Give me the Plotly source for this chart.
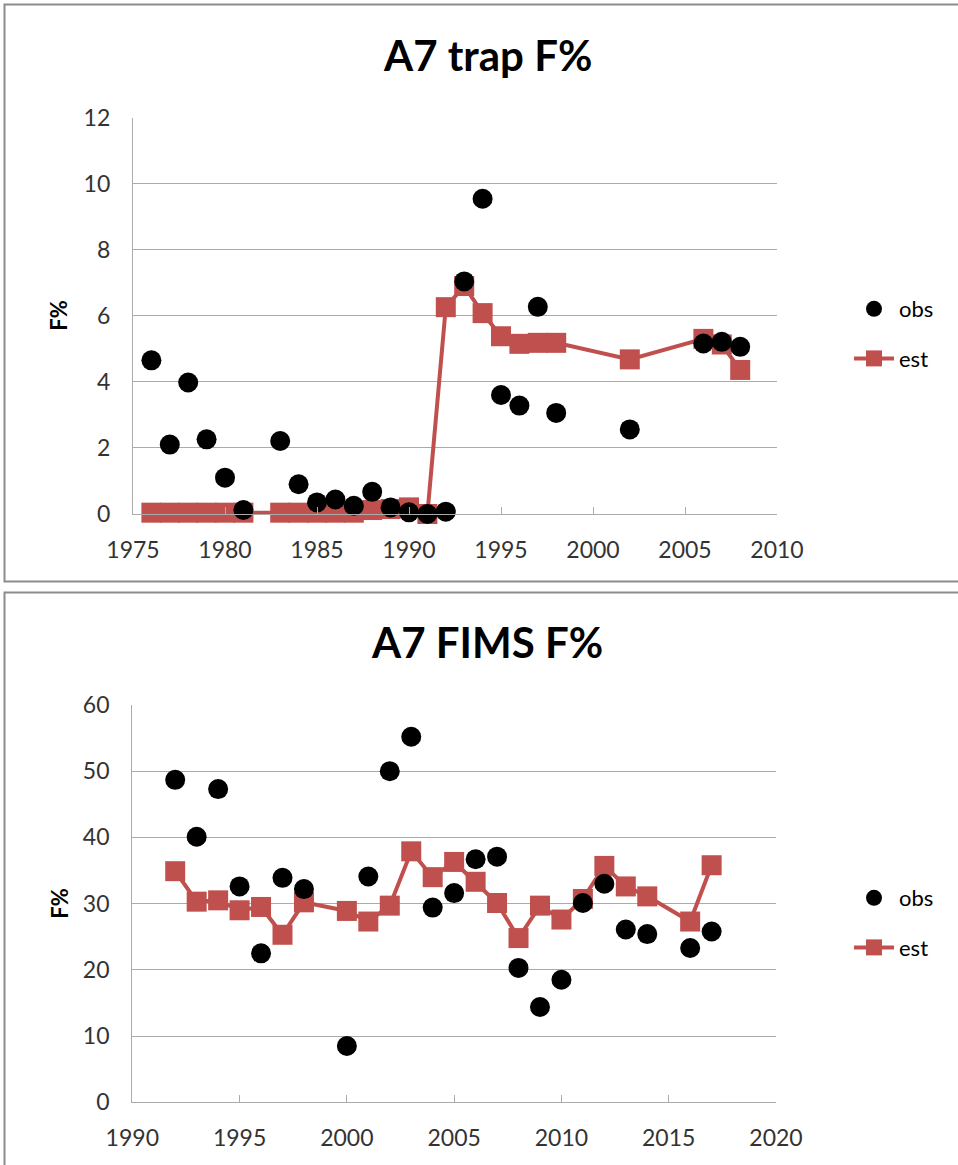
import plotly.graph_objects as go

# ---- A7 trap F% ----
trap_obs_year = [1976, 1977, 1978, 1979, 1980, 1981, 1983, 1984, 1985, 1986, 1987, 1988, 1989,
                 1990, 1991, 1992, 1993, 1994, 1995, 1996, 1997, 1998, 2002, 2006, 2007, 2008]
trap_obs = [4.65, 2.10, 3.98, 2.26, 1.10, 0.12, 2.21, 0.90, 0.35, 0.44, 0.25, 0.67, 0.20,
            0.05, 0.00, 0.07, 7.04, 9.54, 3.60, 3.28, 6.27, 3.06, 2.56, 5.16, 5.21, 5.06]

trap_est_year = [1976, 1977, 1978, 1979, 1980, 1981, 1983, 1984, 1985, 1986, 1987, 1988, 1989,
                 1990, 1991, 1992, 1993, 1994, 1995, 1996, 1997, 1998, 2002, 2006, 2007, 2008]
trap_est = [0.04, 0.04, 0.04, 0.04, 0.04, 0.04, 0.04, 0.04, 0.04, 0.04, 0.04, 0.12, 0.15,
            0.20, 0.00, 6.26, 6.90, 6.08, 5.38, 5.15, 5.18, 5.18, 4.68, 5.30, 5.13, 4.36]

# ---- A7 FIMS F% ----
fims_year = [1992, 1993, 1994, 1995, 1996, 1997, 1998, 2000, 2001, 2002, 2003, 2004,
             2005, 2006, 2007, 2008, 2009, 2010, 2011, 2012, 2013, 2014, 2016, 2017]
fims_obs = [48.7, 40.1, 47.3, 32.6, 22.5, 33.9, 32.2, 8.5, 34.1, 50.0, 55.2, 29.4,
            31.6, 36.7, 37.1, 20.3, 14.4, 18.5, 30.1, 33.0, 26.1, 25.4, 23.3, 25.8]
fims_est = [34.9, 30.3, 30.5, 29.0, 29.5, 25.3, 30.2, 28.9, 27.3, 29.7, 37.9, 34.0,
            36.3, 33.3, 30.1, 24.8, 29.7, 27.6, 30.7, 35.7, 32.6, 31.1, 27.3, 35.8]

titles = ["A7 trap F%", "A7 FIMS F%"]
y_title = "F%"

W, H = 958, 1165
FONT = "Lato, 'Open Sans', sans-serif"
RED = "#C0504D"
GRID = "#ABABAB"
TXT = "#333333"


def px(x):
    return x / W


def py(y):
    return 1 - y / H


fig = go.Figure()


def add_panel(xa, ya, legend, years_est, est, years_obs, obs):
    fig.add_trace(go.Scatter(
        x=years_est, y=est, name="est", mode="lines+markers",
        line=dict(color=RED, width=4),
        marker=dict(symbol="square", size=20, color=RED),
        xaxis=xa, yaxis=ya, legend=legend, legendrank=2, legendgroup="est",
        cliponaxis=False, showlegend=True))
    fig.add_trace(go.Scatter(
        x=years_obs, y=obs, name="obs", mode="markers",
        marker=dict(symbol="circle", size=20, color="black"),
        xaxis=xa, yaxis=ya, legend=legend, legendrank=1, legendgroup="obs",
        cliponaxis=False, showlegend=True))


add_panel("x", "y", "legend", trap_est_year, trap_est, trap_obs_year, trap_obs)
add_panel("x2", "y2", "legend2", fims_year, fims_est, fims_year, fims_obs)

xcommon = dict(showgrid=False, showline=True, linecolor=GRID, linewidth=1.3,
               ticks="inside", ticklen=7, tickcolor=GRID, tickwidth=1.3,
               tickfont=dict(family=FONT, size=23, color=TXT),
               ticklabelstandoff=15, zeroline=False, fixedrange=True, automargin=False)
ycommon = dict(showgrid=True, gridcolor=GRID, gridwidth=1.3, showline=True,
               linecolor=GRID, linewidth=1.3, ticks="",
               tickfont=dict(family=FONT, size=23, color=TXT),
               ticklabelstandoff=17, zeroline=False, fixedrange=True, automargin=False)

legend_common = dict(font=dict(family=FONT, size=22, color="black"),
                     bgcolor="rgba(0,0,0,0)", borderwidth=0,
                     tracegroupgap=18, itemwidth=40,
                     xanchor="left", yanchor="middle")

fig.update_layout(
    width=W, height=H, margin=dict(l=0, r=0, t=0, b=0, autoexpand=False),
    paper_bgcolor="white", plot_bgcolor="white",
    xaxis=dict(domain=[px(133), px(777)], range=[1975, 2010], dtick=5,
               anchor="y", **xcommon),
    yaxis=dict(domain=[py(514), py(117.5)], range=[0, 12], dtick=2,
               anchor="x", **ycommon),
    xaxis2=dict(domain=[px(132.3), px(776)], range=[1990, 2020], dtick=5,
                anchor="y2", **xcommon),
    yaxis2=dict(domain=[py(1102.3), py(705)], range=[0, 60], dtick=10,
                anchor="x2", **ycommon),
    legend=dict(x=px(849), y=py(334), **legend_common),
    legend2=dict(x=px(849), y=py(923), **legend_common),
    showlegend=True,
    shapes=[
        dict(type="rect", xref="paper", yref="paper",
             x0=px(4.5), x1=px(975), y0=py(581.5), y1=py(4.5),
             line=dict(color="#8C8C8C", width=2), fillcolor="rgba(0,0,0,0)", layer="below"),
        dict(type="rect", xref="paper", yref="paper",
             x0=px(4.5), x1=px(975), y0=py(1180), y1=py(592.5),
             line=dict(color="#8C8C8C", width=2), fillcolor="rgba(0,0,0,0)", layer="below"),
    ],
    annotations=[
        dict(text=f"<b>{titles[0]}</b>", xref="paper", yref="paper",
             x=px(487), y=py(55), xanchor="center", yanchor="middle", showarrow=False,
             font=dict(family=FONT, size=42, color="black")),
        dict(text=f"<b>{titles[1]}</b>", xref="paper", yref="paper",
             x=px(487), y=py(642), xanchor="center", yanchor="middle", showarrow=False,
             font=dict(family=FONT, size=42, color="black")),
        dict(text=f"<b>{y_title}</b>", xref="paper", yref="paper",
             x=px(58.7), y=py(316), xanchor="center", yanchor="middle", showarrow=False,
             textangle=-90, font=dict(family=FONT, size=22, color="black")),
        dict(text=f"<b>{y_title}</b>", xref="paper", yref="paper",
             x=px(58.7), y=py(904), xanchor="center", yanchor="middle", showarrow=False,
             textangle=-90, font=dict(family=FONT, size=22, color="black")),
    ],
)

fig.write_html("out.html")
